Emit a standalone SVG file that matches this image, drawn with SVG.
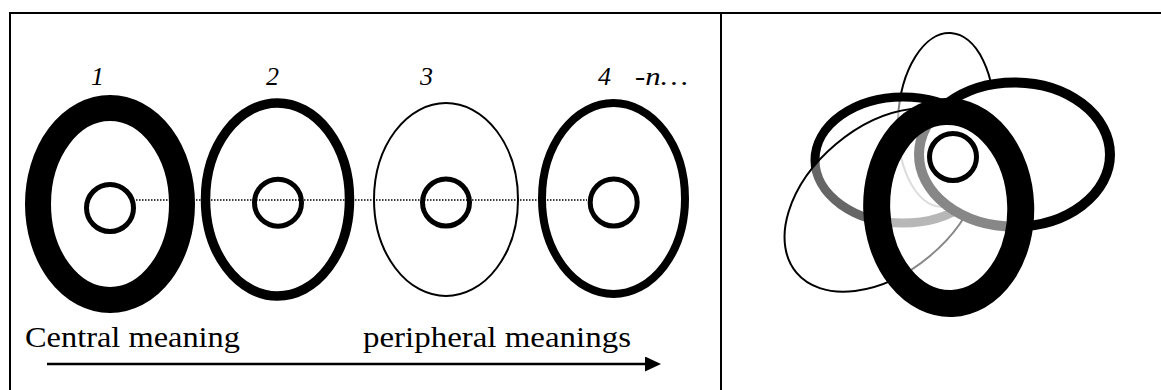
<svg xmlns="http://www.w3.org/2000/svg" width="1161" height="390" viewBox="0 0 1161 390">
  <style>
    .frame { stroke: #000; stroke-width: 2; fill: none; }
    .ring { stroke: #000; fill: #fff; }
    .core { stroke: #000; stroke-width: 5; fill: #fff; }
    .num { font-family: "Liberation Serif", "Times New Roman", serif; font-style: italic; font-size: 26px; fill: #000; }
    .cap { font-family: "Liberation Serif", "Times New Roman", serif; font-size: 30px; fill: #000; }
    .dots { stroke: #000; stroke-width: 1.5; stroke-dasharray: 1.5 1.5; fill: none; }
    .axis { stroke: #000; stroke-width: 2.5; fill: none; }
  </style>
  <defs>
    <marker id="arrowhead" markerWidth="16" markerHeight="15" refX="2" refY="7.5" orient="auto" markerUnits="userSpaceOnUse">
      <polygon points="0,0 16,7.5 0,15" fill="#000"/>
    </marker>
  </defs>
  <rect width="1161" height="390" fill="#fff"/>

  <g id="frame">
    <line class="frame" x1="9" y1="13" x2="1161" y2="13"/>
    <line class="frame" x1="10" y1="12" x2="10" y2="390"/>
    <line class="frame" x1="721" y1="12" x2="721" y2="390"/>
  </g>

  <g id="node-1">
    <ellipse class="ring" cx="110" cy="204" rx="72" ry="96" stroke-width="26"/>
    <circle class="core" cx="110" cy="208" r="23.5"/>
    <text class="num" x="91" y="85">1</text>
  </g>
  <g id="node-2">
    <ellipse class="ring" cx="277.5" cy="199.5" rx="72" ry="96.5" stroke-width="9.5"/>
    <circle class="core" cx="278" cy="202.7" r="23.5"/>
    <text class="num" x="266" y="85">2</text>
  </g>
  <g id="node-3">
    <ellipse class="ring" cx="446" cy="199.5" rx="72" ry="96.5" stroke-width="2"/>
    <circle class="core" cx="446" cy="202.5" r="23.5"/>
    <text class="num" x="420" y="85">3</text>
  </g>
  <g id="node-4">
    <ellipse class="ring" cx="613.5" cy="198.5" rx="71.5" ry="95.5" stroke-width="8"/>
    <circle class="core" cx="613.7" cy="202.5" r="23.5"/>
    <text class="num" x="598" y="85">4</text>
    <text class="num" x="635" y="85" textLength="53" lengthAdjust="spacingAndGlyphs">-n…</text>
  </g>

  <g id="connectors">
    <line class="dots" x1="136" y1="200" x2="587" y2="200"/>
    <line class="axis" x1="47" y1="364" x2="647" y2="364" marker-end="url(#arrowhead)"/>
  </g>

  <g id="labels">
    <text class="cap" x="25" y="347" textLength="215" lengthAdjust="spacingAndGlyphs">Central meaning</text>
    <text class="cap" x="363" y="347" textLength="268" lengthAdjust="spacingAndGlyphs">peripheral meanings</text>
  </g>

  <g id="overlap-figure">
    <ellipse id="tall-ellipse" cx="946" cy="120" rx="48" ry="87" transform="rotate(3 946 120)" fill="#fff" stroke="#000" stroke-width="2"/>
    <ellipse id="upper-left-ellipse" cx="903" cy="160" rx="88" ry="63" fill="#fff" fill-opacity="0.5" stroke="#000" stroke-width="9"/>
    <ellipse id="tilted-ellipse" cx="883" cy="200" rx="113" ry="73" transform="rotate(-40 883 200)" fill="#fff" fill-opacity="0.4" stroke="#000" stroke-width="2"/>
    <ellipse id="right-ellipse" cx="1014.5" cy="154.5" rx="95.5" ry="72" fill="#fff" stroke="#000" stroke-width="10"/>
    <ellipse id="big-ellipse" cx="948.7" cy="207.5" rx="72" ry="96" transform="rotate(-2 948.7 207.5)" fill="#fff" fill-opacity="0.53" stroke="#000" stroke-width="27"/>
    <circle id="inner-circle" class="core" cx="953" cy="157" r="23.5"/>
  </g>
</svg>
